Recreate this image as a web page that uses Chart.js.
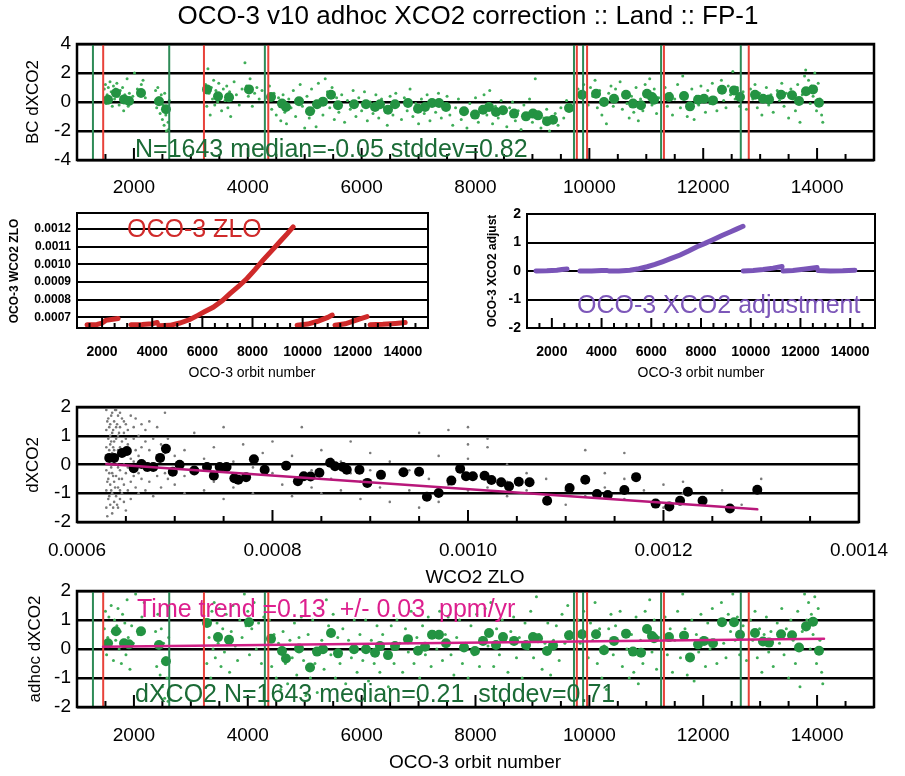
<!DOCTYPE html>
<html>
<head>
<meta charset="utf-8">
<title>OCO-3 v10 adhoc XCO2 correction</title>
<script src="https://cdn.jsdelivr.net/npm/chart.js@4.4.1/dist/chart.umd.min.js"></script>
<style>
  body { margin: 0; background: #fff; }
  #wrap { position: relative; width: 905px; height: 776px; }
  #wrap canvas { position: absolute; left: 0; top: 0; }
</style>
</head>
<body>
<div id="wrap">
  <canvas id="p1" width="905" height="776"></canvas>
  <canvas id="p2" width="905" height="776"></canvas>
  <canvas id="p3" width="905" height="776"></canvas>
  <canvas id="p4" width="905" height="776"></canvas>
  <canvas id="p5" width="905" height="776"></canvas>
</div>
<script>
// ---- tick labels ----
const orbitTicks = [2000, 4000, 6000, 8000, 10000, 12000, 14000];
const bcTicks = [-4, -2, 0, 2, 4];
const unitTicks = [-2, -1, 0, 1, 2];
const zloTicks = [0.0007, 0.0008, 0.0009, 0.0010, 0.0011, 0.0012];
const wco2Ticks = [0.0006, 0.0008, 0.0010, 0.0012, 0.0014];

// ---- vertical markers (orbit numbers) ----
const greenLines = [1280, 2620, 4300, 9730, 9890, 11260, 12660];
const redLines = [1460, 3230, 4360, 9780, 9960, 11310, 12800];

// ---- binned means, top and bottom panels ----
const binOrbit = [1545,1685,1826,1913,2124,2440,2563,3284,3477,3670,4021,4408,4601,4671,4900,5093,5216,5321,5462,5585,5866,6076,6235,6322,6463,6586,6814,6990,7113,7236,7359,7482,7798,7991,8132,8237,8360,8483,8677,8887,9010,9098,9256,9362,9643,9871,10117,10257,10433,10644,10767,10907,11013,11100,11136,11399,11663,11768,11909,12014,12172,12330,12541,12646,12910,13050,13156,13367,13560,13683,13806,13929,14034];
const bcBin = [0.16,0.62,0.18,0.07,0.62,0.05,-0.5,0.87,0.39,0.32,0.87,0.34,-0.11,-0.34,0.05,-0.64,-0.16,0.02,0.5,-0.23,-0.16,-0.16,-0.34,-0.16,-0.53,-0.16,-0.07,-0.46,-0.34,-0.07,-0.07,-0.34,-0.64,-0.87,-0.53,-0.34,-0.69,-0.57,-0.8,-0.99,-0.8,-0.92,-1.33,-1.22,-0.41,0.5,0.57,0,0.23,0.5,-0.11,-0.23,0.57,0.34,0.16,0.34,0.41,-0.3,0.16,0.23,0.11,0.85,0.8,0.34,0.5,0.23,0.18,0.5,0.46,0.07,0.74,0.87,-0.05];
const adhocBin = [0.2,0.61,0.2,0.16,0.61,0.14,-0.42,0.9,0.41,0.32,0.92,0.35,-0.07,-0.33,0.02,-0.64,-0.09,-0.01,0.55,-0.15,-0.01,-0.01,-0.13,0.1,-0.21,0.1,0.34,-0.06,0.08,0.49,0.49,0.2,0.05,-0.07,0.28,0.55,0.14,0.41,0.28,0.14,0.41,0.37,-0.07,0.12,0.47,0.51,0.51,-0.04,0.28,0.53,-0.09,-0.13,0.69,0.45,0.37,0.41,0.46,-0.29,0.16,0.28,0.2,0.92,0.92,0.49,0.55,0.26,0.22,0.51,0.47,0.05,0.78,0.94,-0.06];

// ---- individual soundings [orbit, dXCO2] ----
const bcDots = [[1480,0.9],[1500,1.2],[1510,-0.1],[1530,0.5],[1550,1.0],[1560,0.3],[1580,1.4],[1600,0.7],[1620,-0.3],[1640,1.1],[1660,0.2],[1680,0.9],[1700,1.3],[1720,0.4],[1740,-0.2],[1760,0.8],[1780,0.1],[1800,1.0],[1820,-0.6],[1840,0.5],[1860,0.2],[1880,1.6],[1900,-0.3],[1920,0.6],[1950,0.0],[1980,0.4],[2010,2.0],[2060,0.9],[2130,1.2],[2160,1.5],[2200,0.3],
[2380,0.8],[2400,-0.4],[2420,1.0],[2440,0.3],[2460,-0.8],[2480,0.5],[2500,-1.2],[2510,-0.2],[2530,-1.6],[2540,0.6],[2560,-0.9],[2570,-2.0],[2590,-0.4],[2600,-1.4],[2610,-1.9],[2620,0.1],
[3260,1.2],[3280,-0.3],[3300,2.3],[3320,0.6],[3340,-0.9],[3360,1.0],[3380,0.2],[3400,1.5],[3420,-0.2],[3440,0.8],[3470,0.0],[3490,1.3],[3510,0.4],[3540,-0.6],[3570,0.9],[3600,0.1],[3630,1.1],[3650,-0.4],[3680,0.7],[3700,-1.0],[3730,0.3],[3760,1.4],[3800,0.5],[3850,-0.2],[3900,0.9],[3950,2.7],[3980,1.1],[4010,0.4],[4040,1.6],[4080,-0.3],[4120,0.6],[4160,1.0],[4200,0.2],[4250,0.8],
[4380,1.1],[4420,-0.5],[4460,0.6],[4500,-0.9],[4540,0.3],[4580,-1.3],[4620,0.5],[4650,-0.7],[4680,-1.5],[4720,0.2],[4760,-0.4],[4800,0.8],[4840,-1.0],[4880,0.1],[4920,1.2],[4960,-0.3],[5000,-1.8],[5040,0.4],[5080,-1.1],[5120,0.9],[5160,-0.6],[5200,-1.7],[5240,1.3],[5280,0.2],[5320,-0.9],[5360,1.6],[5400,0.7],[5440,-0.4],[5480,1.0],[5520,-1.2],[5560,0.3],[5600,-0.7],[5650,0.5],[5700,-1.4],[5750,0.1],[5800,-0.5],[5850,0.8],[5900,-1.0],[5950,0.3],[6000,-0.6],[6050,0.7],[6100,-1.3],[6150,0.0],[6200,-0.8],[6250,0.5],[6300,-1.1],[6350,0.2],[6400,-0.4],[6450,-1.6],[6500,0.4],[6550,-0.9],[6600,0.6],[6650,-0.2],[6700,-1.2],[6750,0.3],[6800,-0.6],[6850,0.9],[6900,-1.0],[6950,-0.1],[7000,-1.5],[7050,0.2],[7100,-0.8],[7150,0.5],[7200,-1.3],[7250,0.0],[7300,-0.7],[7350,0.6],[7400,-1.1],[7450,-0.2],[7500,0.4],[7550,-0.9],[7600,-1.6],[7650,-0.4],[7700,0.2],[7750,-1.2],[7800,-0.6],[7850,-1.8],[7900,-0.1],[7950,-1.0],[8000,0.3],[8050,-1.4],[8100,-0.5],[8150,0.5],[8200,-0.9],[8250,0.8],[8300,-1.5],[8350,-0.3],[8400,-1.1],[8450,0.1],[8500,-0.7],[8550,-1.7],[8600,-0.4],[8650,0.0],[8700,-1.3],[8750,-0.6],[8800,-1.9],[8850,-0.2],[8900,-1.0],[8950,0.2],[9000,-1.4],[9050,1.6],[9100,-0.7],[9150,-1.8],[9200,-1.1],[9250,-0.5],[9300,-2.0],[9350,-1.3],[9400,-0.8],[9450,-1.6],[9500,-0.4],[9550,-1.1],[9600,0.1],[9650,-0.6],
[9800,0.9],[9840,0.3],[9900,1.2],[9940,0.6],[9980,-0.2],[10020,1.0],[10060,0.4],[10100,1.5],[10140,-0.4],[10180,0.8],[10220,-0.9],[10260,0.2],[10300,-1.5],[10340,0.6],[10380,1.1],[10420,-0.3],[10460,0.9],[10500,0.2],[10540,1.4],[10580,-0.5],[10620,0.7],[10660,-0.1],[10700,-1.1],[10740,0.4],[10780,-0.7],[10820,1.0],[10860,-1.3],[10900,0.2],[10940,-0.6],[10980,1.2],[11020,0.5],[11060,1.6],[11100,-0.2],[11140,0.9],[11180,-0.8],[11220,0.3],[11330,1.0],[11370,-0.3],[11420,0.6],[11460,-0.9],[11500,0.2],[11550,1.2],[11600,-0.4],[11640,1.8],[11680,0.6],[11720,-1.0],[11760,-0.5],[11800,0.9],[11840,-1.2],[11880,0.4],[11920,-0.2],[11960,1.1],[12000,0.3],[12040,-0.7],[12080,0.8],[12120,-0.1],[12160,1.3],[12200,0.2],[12240,-0.6],[12280,0.9],[12320,1.5],[12360,0.1],[12400,-0.4],[12440,1.1],[12480,0.5],[12520,2.1],[12560,0.2],[12600,1.0],[12640,-0.3],[12700,0.7],[12760,-0.5],[12830,0.9],[12870,0.2],[12910,1.2],[12950,-0.4],[12990,0.6],[13030,-0.9],[13070,0.4],[13110,1.0],[13150,-0.2],[13190,0.5],[13230,-0.7],[13300,0.8],[13340,0.1],[13380,1.3],[13420,-0.3],[13460,0.6],[13500,-1.1],[13540,0.9],[13580,0.2],[13620,-0.6],[13660,1.2],[13700,-1.4],[13740,0.5],[13780,1.8],[13800,2.2],[13820,0.9],[13850,1.5],[13880,-0.1],[13900,1.1],[13930,0.4],[13960,2.0],[13990,-0.6],[14020,1.3],[14050,0.2],[14080,-0.9],[14100,-1.4]];

const adhocDots = [[1480,0.7],[1500,1.3],[1520,-0.2],[1540,0.4],[1560,1.1],[1580,0.2],[1600,1.5],[1620,0.6],[1640,-0.4],[1660,1.0],[1680,0.3],[1700,0.8],[1720,1.4],[1740,0.0],[1760,0.6],[1780,-0.5],[1800,1.2],[1820,0.3],[1840,0.9],[1860,-0.2],[1880,1.7],[1900,0.4],[1930,-0.7],[1960,0.8],[1990,0.2],[2030,1.9],[2080,0.5],[2140,1.1],[2180,1.6],
[2380,0.6],[2400,-0.6],[2420,1.2],[2440,0.1],[2460,-0.9],[2480,0.7],[2500,-1.3],[2520,0.2],[2540,-1.7],[2560,-0.3],[2580,-1.0],[2600,-1.8],[2610,0.4],
[3260,1.0],[3280,-0.5],[3300,2.0],[3320,0.4],[3350,-1.0],[3370,1.3],[3390,0.0],[3410,1.6],[3430,-0.3],[3460,0.9],[3480,0.2],[3500,1.4],[3530,-0.6],[3560,0.7],[3590,-0.1],[3620,1.2],[3650,0.3],[3680,-0.8],[3710,0.6],[3740,1.5],[3780,0.1],[3820,-0.4],[3860,1.0],[3900,0.4],[3940,1.9],[3970,0.8],[4000,1.3],[4030,-0.2],[4070,0.7],[4110,1.6],[4150,0.0],[4190,0.9],[4240,-0.5],[4280,1.1],
[4380,1.0],[4420,-0.6],[4460,0.5],[4500,-1.0],[4540,0.2],[4580,-1.4],[4620,0.6],[4660,-0.5],[4700,-1.2],[4740,0.3],[4780,-0.3],[4820,0.9],[4860,-0.9],[4900,0.4],[4940,1.1],[4980,-0.4],[5020,-1.6],[5060,0.5],[5100,-1.0],[5140,1.0],[5180,-0.5],[5220,-1.5],[5260,1.4],[5300,0.3],[5340,-0.7],[5380,1.7],[5420,0.8],[5460,-0.2],[5500,1.2],[5540,-1.0],[5580,0.4],[5620,-0.5],[5670,0.7],[5720,-1.2],[5770,0.3],[5820,-0.3],[5870,1.0],[5920,-0.8],[5970,0.5],[6020,-0.4],[6070,1.0],[6120,-1.1],[6170,0.3],[6220,-0.5],[6270,0.8],[6320,-0.8],[6370,0.5],[6420,-0.1],[6470,-1.3],[6520,0.8],[6570,-0.5],[6620,1.0],[6670,0.2],[6720,-0.8],[6770,0.7],[6820,-0.1],[6870,1.3],[6920,-0.5],[6970,0.4],[7020,-1.0],[7070,0.8],[7120,-0.2],[7170,1.1],[7220,-0.6],[7270,0.6],[7320,0.0],[7370,1.3],[7420,-0.4],[7470,0.5],[7520,1.1],[7570,-0.2],[7620,-0.9],[7670,0.4],[7720,1.0],[7770,-0.5],[7820,0.2],[7870,-1.0],[7920,0.8],[7970,-0.2],[8020,1.2],[8070,-0.6],[8120,0.4],[8170,1.4],[8220,0.1],[8270,1.6],[8320,-0.6],[8370,0.7],[8420,-0.2],[8470,1.0],[8520,0.3],[8570,-0.8],[8620,0.6],[8670,1.1],[8720,-0.3],[8770,0.4],[8820,-1.0],[8870,0.9],[8920,0.0],[8970,1.3],[9020,-0.3],[9070,1.8],[9120,0.5],[9170,-0.7],[9220,0.2],[9270,0.9],[9320,-0.9],[9370,0.3],[9420,0.8],[9470,-0.4],[9520,1.2],[9570,0.2],[9620,1.5],[9660,0.6],
[9800,1.0],[9840,0.2],[9900,1.3],[9940,0.5],[9980,-0.3],[10020,0.9],[10060,0.3],[10100,1.6],[10140,-0.5],[10180,0.7],[10220,-1.0],[10260,0.1],[10300,-1.4],[10340,0.7],[10380,1.2],[10420,-0.2],[10460,0.8],[10500,0.3],[10540,1.3],[10580,-0.6],[10620,0.6],[10660,0.0],[10700,-1.0],[10740,0.5],[10780,-0.8],[10820,1.1],[10860,-1.2],[10900,0.3],[10940,-0.5],[10980,1.3],[11020,0.6],[11060,1.7],[11100,-0.1],[11140,1.0],[11180,-0.7],[11220,0.4],[11330,1.1],[11370,-0.2],[11420,0.7],[11460,-0.8],[11500,0.3],[11550,1.3],[11600,-0.3],[11640,1.9],[11680,0.7],[11720,-0.9],[11760,-0.4],[11800,1.0],[11840,-1.1],[11880,0.5],[11920,-0.1],[11960,1.2],[12000,0.4],[12040,-0.6],[12080,0.9],[12120,0.0],[12160,1.4],[12200,0.3],[12240,-0.5],[12280,1.0],[12320,1.6],[12360,0.2],[12400,-0.3],[12440,1.2],[12480,0.6],[12520,1.9],[12560,0.3],[12600,1.1],[12640,-0.2],[12700,0.8],[12760,-0.4],[12830,1.0],[12870,0.3],[12910,1.3],[12950,-0.3],[12990,0.7],[13030,-0.8],[13070,0.5],[13110,1.1],[13150,-0.1],[13190,0.6],[13230,-0.6],[13300,0.9],[13340,0.2],[13380,1.4],[13420,-0.2],[13460,0.7],[13500,-1.0],[13540,1.0],[13580,0.3],[13620,-0.5],[13660,1.3],[13700,-1.3],[13740,0.6],[13780,1.9],[13800,2.1],[13820,1.0],[13850,1.6],[13880,0.0],[13900,1.2],[13930,0.5],[13960,1.8],[13990,-0.5],[14020,1.4],[14050,0.3],[14080,-0.8],[14100,-1.2]];

// ---- ZLO and XCO2 adjustment vs orbit (null = data gap) ----
const zloCurve = [[1400,0.000658],[1800,0.000660],[2000,0.000668],[2150,0.000683],[2640,0.000694],null,
  [3150,0.000659],[3600,0.000660],[4000,0.000664],[4200,0.000671],null,
  [4270,0.000653],[4700,0.000655],[5100,0.000668],[5500,0.000688],[5800,0.000710],[6100,0.000733],[6430,0.000757],[6800,0.000795],[7100,0.000834],[7450,0.000876],[7780,0.000920],[8100,0.000970],[8420,0.001024],[8760,0.001076],[9100,0.001129],[9380,0.001172],[9620,0.001211],null,
  [9780,0.000656],[10200,0.000662],[10600,0.000678],[11000,0.000700],[11180,0.000713],null,
  [11290,0.000656],[11700,0.000664],[12200,0.000688],[12570,0.000704],null,
  [12690,0.000658],[13200,0.000661],[13700,0.000666],[14090,0.000671]];
const adjCurve = [[1360,0.0],[1800,0.01],[2200,0.03],[2400,0.05],[2610,0.07],null,
  [3130,0.0],[3600,0.0],[4000,0.02],[4220,0.02],null,
  [4300,0.0],[4700,0.0],[5140,0.03],[5500,0.08],[5830,0.15],[6150,0.23],[6470,0.33],[6800,0.44],[7160,0.56],[7500,0.70],[7840,0.85],[8160,0.97],[8480,1.10],[8820,1.24],[9170,1.37],[9430,1.47],[9690,1.57],null,
  [9700,0.0],[10100,0.02],[10500,0.05],[10900,0.10],[11260,0.16],null,
  [11300,0.0],[11700,0.02],[12200,0.07],[12670,0.12],null,
  [12710,0.02],[13200,0.0],[13700,0.01],[14190,0.03]];

// ---- dXCO2 vs WCO2 ZLO ----
const zloBinX = [6.33e-4,6.38e-4,6.46e-4,6.51e-4,6.58e-4,6.66e-4,6.72e-4,6.78e-4,6.85e-4,6.91e-4,6.98e-4,7.05e-4,7.20e-4,7.33e-4,7.40e-4,7.46e-4,7.53e-4,7.61e-4,7.65e-4,7.73e-4,7.81e-4,7.92e-4,8.14e-4,8.26e-4,8.32e-4,8.39e-4,8.48e-4,8.59e-4,8.64e-4,8.72e-4,8.76e-4,8.89e-4,8.97e-4,9.11e-4,9.34e-4,9.50e-4,9.58e-4,9.70e-4,9.83e-4,9.92e-4,9.98e-4,10.05e-4,10.17e-4,10.24e-4,10.34e-4,10.42e-4,10.52e-4,10.63e-4,10.81e-4,11.04e-4,11.20e-4,11.32e-4,11.43e-4,11.60e-4,11.72e-4,11.92e-4,12.06e-4,12.17e-4,12.25e-4,12.40e-4,12.68e-4,12.96e-4];
const zloBinY = [0.23,0.23,0.4,0.47,-0.13,0.02,-0.09,-0.09,0.23,0.55,-0.25,-0.01,-0.21,-0.09,-0.39,-0.09,-0.09,-0.48,-0.53,-0.44,0.18,-0.18,-0.04,-0.58,-0.41,-0.42,-0.29,0.06,-0.06,-0.09,-0.18,-0.18,-0.64,-0.36,-0.27,-0.25,-1.12,-0.99,-0.56,-0.15,-0.41,-0.41,-0.39,-0.54,-0.62,-0.76,-0.6,-0.62,-1.26,-0.82,-0.53,-1.03,-1.06,-0.89,-0.44,-1.36,-1.46,-1.26,-0.95,-1.26,-1.53,-0.88];
const zloDots = [[6.30e-4,1.9],[6.30e-4,1.2],[6.30e-4,0.6],[6.30e-4,-0.2],[6.30e-4,-0.9],[6.30e-4,-1.5],
[6.31e-4,1.5],[6.31e-4,0.2],[6.31e-4,-0.6],[6.31e-4,-1.8],
[6.32e-4,1.6],[6.32e-4,0.9],[6.32e-4,0.3],[6.32e-4,-0.5],[6.32e-4,-1.2],[6.32e-4,2.0],
[6.33e-4,1.3],[6.33e-4,0.5],[6.33e-4,-0.3],[6.33e-4,-1.1],
[6.34e-4,1.4],[6.34e-4,0.7],[6.34e-4,0.0],[6.34e-4,-0.7],[6.34e-4,-1.4],[6.34e-4,1.0],
[6.35e-4,1.7],[6.35e-4,0.8],[6.35e-4,-0.1],[6.35e-4,-0.9],
[6.36e-4,1.8],[6.36e-4,1.1],[6.36e-4,0.4],[6.36e-4,-0.3],[6.36e-4,-1.0],[6.36e-4,-1.7],
[6.37e-4,1.2],[6.37e-4,0.6],[6.37e-4,-0.4],[6.37e-4,-1.5],
[6.38e-4,1.5],[6.38e-4,0.8],[6.38e-4,0.1],[6.38e-4,-0.6],[6.38e-4,-1.3],[6.38e-4,0.5],
[6.39e-4,1.9],[6.39e-4,0.3],[6.39e-4,-0.8],
[6.40e-4,1.9],[6.40e-4,1.3],[6.40e-4,0.2],[6.40e-4,-0.4],[6.40e-4,-1.1],[6.40e-4,0.9],
[6.41e-4,1.4],[6.41e-4,0.0],[6.41e-4,-1.4],
[6.42e-4,1.7],[6.42e-4,1.0],[6.42e-4,0.5],[6.42e-4,-0.8],[6.42e-4,-1.5],[6.42e-4,-0.1],
[6.43e-4,1.1],[6.43e-4,0.4],[6.43e-4,-0.5],
[6.44e-4,1.3],[6.44e-4,0.6],[6.44e-4,-0.2],[6.44e-4,-0.9],[6.44e-4,1.8],[6.44e-4,-1.2],
[6.46e-4,1.6],[6.46e-4,0.3],[6.46e-4,-0.5],[6.46e-4,-1.0],[6.46e-4,0.8],
[6.48e-4,1.1],[6.48e-4,0.0],[6.48e-4,-0.7],[6.48e-4,1.5],[6.48e-4,-1.3],
[6.50e-4,1.4],[6.50e-4,0.4],[6.50e-4,-0.3],[6.50e-4,-1.6],[6.50e-4,0.9],
[6.52e-4,1.2],[6.52e-4,-0.1],[6.52e-4,0.7],[6.52e-4,-0.9],
[6.55e-4,1.7],[6.55e-4,0.2],[6.55e-4,-0.6],[6.55e-4,-1.2],
[6.58e-4,0.9],[6.58e-4,-0.4],[6.58e-4,1.3],[6.58e-4,0.1],
[6.60e-4,1.6],[6.60e-4,-0.8],[6.60e-4,0.5],
[6.63e-4,1.0],[6.63e-4,-0.3],[6.63e-4,0.3],[6.63e-4,-1.0],
[6.66e-4,1.4],[6.66e-4,0.6],[6.66e-4,-0.5],
[6.70e-4,1.2],[6.70e-4,-0.2],[6.70e-4,0.8],[6.70e-4,-0.9],
[6.74e-4,0.5],[6.74e-4,-0.6],[6.74e-4,1.5],
[6.78e-4,0.9],[6.78e-4,-0.1],[6.78e-4,-1.1],
[6.82e-4,1.3],[6.82e-4,0.3],[6.82e-4,-0.4],
[6.86e-4,0.7],[6.86e-4,-0.8],
[6.90e-4,1.8],[6.90e-4,0.4],[6.90e-4,-0.3],
[6.93e-4,0.9],[6.93e-4,-0.5],
[7.00e-4,0.3],[7.00e-4,-0.7],[7.10e-4,0.5],[7.10e-4,-0.4],[7.10e-4,-1.0],[7.20e-4,1.1],[7.20e-4,-0.3],[7.30e-4,0.2],[7.30e-4,-0.9],[7.40e-4,0.6],[7.40e-4,-0.6],[7.50e-4,1.3],[7.50e-4,-0.2],[7.50e-4,-1.2],[7.60e-4,0.1],[7.60e-4,-0.8],[7.70e-4,0.7],[7.70e-4,-0.5],[7.80e-4,-0.1],[7.80e-4,-1.0],[7.90e-4,0.4],
[8.00e-4,-0.3],[8.00e-4,0.8],[8.10e-4,-0.7],[8.20e-4,0.3],[8.20e-4,-1.1],[8.30e-4,1.3],[8.30e-4,-0.4],[8.40e-4,-0.2],[8.40e-4,-0.8],[8.50e-4,0.5],[8.50e-4,-1.0],[8.60e-4,-0.5],[8.60e-4,0.2],[8.70e-4,0.1],[8.70e-4,-0.9],[8.80e-4,0.8],[8.80e-4,-0.3],[8.90e-4,-1.2],[8.90e-4,-0.6],
[9.00e-4,0.4],[9.00e-4,-0.2],[9.10e-4,-0.8],[9.20e-4,0.1],[9.20e-4,-1.3],[9.40e-4,-0.2],[9.40e-4,-0.9],[9.50e-4,1.1],[9.50e-4,-1.5],[9.60e-4,-0.5],[9.70e-4,-1.3],[9.70e-4,0.3],[9.80e-4,-0.7],[9.80e-4,1.2],
[10.0e-4,1.3],[10.0e-4,0.7],[10.0e-4,0.2],[10.0e-4,-0.3],[10.0e-4,-0.9],[10.2e-4,0.6],[10.2e-4,0.9],[10.2e-4,-0.4],[10.2e-4,-0.8],[10.4e-4,0.0],[10.4e-4,-0.6],[10.4e-4,-1.1],[10.6e-4,-0.3],[10.6e-4,-0.9],[10.8e-4,-0.5],
[11.0e-4,-0.9],[11.0e-4,-1.4],[11.2e-4,0.5],[11.2e-4,-0.6],[11.2e-4,-1.1],[11.4e-4,-0.8],[11.4e-4,-0.3],[11.6e-4,0.4],[11.6e-4,-0.5],[11.6e-4,-1.2],[11.8e-4,-0.9],
[12.0e-4,-0.7],[12.0e-4,-1.5],[12.2e-4,-1.0],[12.2e-4,-0.6],[12.4e-4,-1.3],[12.6e-4,-0.9],[12.8e-4,-1.4],[13.0e-4,-0.5]];

// ---- fitted lines (end points) ----
const zloFit = [[6.30e-4, 0.02], [12.96e-4, -1.56]];
const timeFit = [[1457, 0.08], [14122, 0.35]];

const W = 905, H = 776;
const FONT = "'Liberation Sans', Arial, Helvetica, sans-serif";
const GREEN = '#239342', LIGHTGREEN = '#3fae58', TXTGREEN = '#1b6b36';

const pairs = arr => arr.map((p, i) => p ? { x: p[0], y: p[1] } : { x: arr[i - 1][0], y: null });
const dots = (pts, r, color) => ({ data: pts, showLine: false, pointRadius: r, pointBackgroundColor: color, pointBorderWidth: 0 });
const line = (pts, color, w) => ({ data: pts, showLine: true, spanGaps: false, borderColor: color, borderWidth: w, borderCapStyle: 'round', pointRadius: 0 });
function vlines(xs, lo, hi) {
  const pts = [];
  xs.forEach(v => pts.push({ x: v, y: lo }, { x: v, y: hi }, { x: v, y: null }));
  return pts;
}

function deco(d) {
  return {
    id: 'deco',
    afterDraw(chart) {
      const { ctx, chartArea: a, scales } = chart;
      const x = scales.x;
      ctx.save();
      ctx.strokeStyle = '#000';
      ctx.lineWidth = 2;
      // inward minor / major ticks on the bottom axis
      const n = Math.round((d.tEnd - d.tStart) / d.tStep);
      for (let i = 0; i <= n; i++) {
        const v = d.tStart + i * d.tStep;
        const r = v / d.tMajor;
        const major = Math.abs(r - Math.round(r)) < 1e-6;
        const px = x.getPixelForValue(v);
        ctx.beginPath();
        ctx.moveTo(px, a.bottom);
        ctx.lineTo(px, a.bottom - (major ? d.tLen * 2 : d.tLen));
        ctx.stroke();
      }
      ctx.lineWidth = d.frame;
      ctx.strokeRect(a.left, a.top, a.right - a.left, a.bottom - a.top);
      (d.texts || []).forEach(t => {
        ctx.save();
        ctx.font = (t.bold ? 'bold ' : '') + t.size + 'px ' + FONT;
        ctx.fillStyle = t.color || '#000';
        ctx.textAlign = t.align || 'center';
        ctx.textBaseline = t.base || 'middle';
        ctx.translate(t.x, t.y);
        if (t.rot) ctx.rotate(-Math.PI / 2);
        ctx.fillText(t.t, 0, 0);
        ctx.restore();
      });
      ctx.restore();
    }
  };
}

function panel(id, area, xs, ys, datasets, d) {
  return new Chart(document.getElementById(id), {
    type: 'scatter',
    data: { datasets },
    options: {
      responsive: false,
      animation: false,
      events: [],
      layout: { padding: { left: 0, top: area[1], right: W - area[2], bottom: 0 } },
      plugins: { legend: { display: false }, tooltip: { enabled: false } },
      scales: {
        x: {
          type: 'linear', min: xs.min, max: xs.max,
          afterBuildTicks: s => { s.ticks = xs.ticks.map(v => ({ value: v })); },
          afterFit: s => { s.height = H - area[3]; },
          grid: { display: false, drawTicks: false },
          border: { display: false },
          ticks: { autoSkip: false, maxRotation: 0, padding: xs.pad, color: '#000',
                   font: { family: FONT, size: xs.size, weight: xs.weight || 'normal' }, callback: xs.fmt }
        },
        y: {
          type: 'linear', min: ys.min, max: ys.max,
          afterBuildTicks: s => { s.ticks = ys.ticks.map(v => ({ value: v })); },
          afterFit: s => { s.width = area[0]; },
          grid: { color: '#000', lineWidth: ys.grid, drawTicks: false },
          border: { display: false },
          ticks: { padding: 6, color: '#000',
                   font: { family: FONT, size: ys.size, weight: ys.weight || 'normal' }, callback: ys.fmt }
        }
      }
    },
    plugins: [deco(d)]
  });
}

const orbitFmt = v => String(v);
const f4 = v => v.toFixed(4);
const plain = v => String(v);

// 1: bias-corrected dXCO2 vs orbit
panel('p1', [77, 44, 874, 160],
  { min: 1000, max: 15000, ticks: orbitTicks, pad: 16, size: 19, fmt: orbitFmt },
  { min: -4, max: 4, ticks: bcTicks, grid: 2.5, size: 19, fmt: plain },
  [
    line(vlines(greenLines, -4, 4), '#2e8b57', 2),
    line(vlines(redLines, -4, 4), '#e8423a', 2),
    dots(binOrbit.map((x, i) => ({ x, y: bcBin[i] })), 5, GREEN),
    dots(pairs(bcDots), 1.5, LIGHTGREEN)
  ],
  { tStart: 1500, tEnd: 14500, tStep: 500, tMajor: 2000, tLen: 6, frame: 2.5,
    texts: [
      { t: 'OCO-3 v10 adhoc XCO2 correction :: Land :: FP-1', x: 468, y: 17, size: 26 },
      { t: 'BC dXCO2', x: 33, y: 102, size: 17, rot: true },
      { t: 'N=1643 median=-0.05 stddev=0.82', x: 135, y: 157, size: 25, color: TXTGREEN, align: 'left', base: 'alphabetic' }
    ] });

// 2: OCO-3 WCO2 ZLO vs orbit
panel('p2', [77, 213, 428, 328],
  { min: 1000, max: 15000, ticks: orbitTicks, pad: 16, size: 14, weight: 'bold', fmt: orbitFmt },
  { min: 0.00064, max: 0.00129, ticks: zloTicks, grid: 2, size: 12, weight: 'bold', fmt: f4 },
  [ line(pairs(zloCurve), '#cf2a2a', 5) ],
  { tStart: 1500, tEnd: 14500, tStep: 500, tMajor: 2000, tLen: 5, frame: 2,
    texts: [
      { t: 'OCO-3 WCO2 ZLO', x: 15, y: 271, size: 12, bold: true, rot: true },
      { t: 'OCO-3 orbit number', x: 252, y: 373, size: 14 },
      { t: 'OCO-3 ZLO', x: 127, y: 237, size: 25, color: '#d02a2a', align: 'left', base: 'alphabetic' }
    ] });

// 3: XCO2 adjustment vs orbit
panel('p3', [527, 214, 875, 328],
  { min: 1000, max: 15000, ticks: orbitTicks, pad: 16, size: 14, weight: 'bold', fmt: orbitFmt },
  { min: -2, max: 2, ticks: unitTicks, grid: 2, size: 14, weight: 'bold', fmt: plain },
  [ line(pairs(adjCurve), '#7a55b8', 5) ],
  { tStart: 1500, tEnd: 14500, tStep: 500, tMajor: 2000, tLen: 5, frame: 2,
    texts: [
      { t: 'OCO-3 XCO2 adjust', x: 493, y: 271, size: 12, bold: true, rot: true },
      { t: 'OCO-3 orbit number', x: 701, y: 373, size: 14 },
      { t: 'OCO-3 XCO2 adjustment', x: 577, y: 313, size: 25, color: '#7d57b9', align: 'left', base: 'alphabetic' }
    ] });

// 4: dXCO2 vs WCO2 ZLO
panel('p4', [77, 407, 874, 522],
  { min: 0.0006, max: 0.0014, ticks: wco2Ticks, pad: 17, size: 19, fmt: f4 },
  { min: -2, max: 2, ticks: unitTicks, grid: 2.5, size: 19, fmt: plain },
  [
    line(pairs(zloFit), '#b8177a', 2.5),
    dots(zloBinX.map((x, i) => ({ x, y: zloBinY[i] })), 5, '#000'),
    dots(pairs(zloDots), 1.3, '#7a7a7a')
  ],
  { tStart: 0.0006, tEnd: 0.0014, tStep: 0.00005, tMajor: 0.0002, tLen: 6, frame: 2.5,
    texts: [
      { t: 'dXCO2', x: 33, y: 465, size: 17, rot: true },
      { t: 'WCO2 ZLO', x: 475, y: 578, size: 19 }
    ] });

// 5: adhoc-corrected dXCO2 vs orbit
panel('p5', [77, 591, 874, 707],
  { min: 1000, max: 15000, ticks: orbitTicks, pad: 17, size: 19, fmt: orbitFmt },
  { min: -2, max: 2, ticks: unitTicks, grid: 2.5, size: 19, fmt: plain },
  [
    line(pairs(timeFit), '#d01f86', 2.5),
    line(vlines(greenLines, -2, 2), '#2e8b57', 2),
    line(vlines(redLines, -2, 2), '#e8423a', 2),
    dots(binOrbit.map((x, i) => ({ x, y: adhocBin[i] })), 5, GREEN),
    dots(pairs(adhocDots), 1.5, LIGHTGREEN)
  ],
  { tStart: 1500, tEnd: 14500, tStep: 500, tMajor: 2000, tLen: 6, frame: 2.5,
    texts: [
      { t: 'adhoc dXCO2', x: 35, y: 649, size: 17, rot: true },
      { t: 'OCO-3 orbit number', x: 475, y: 763, size: 19 },
      { t: 'Time trend =0.13  +/- 0.03  ppm/yr', x: 137, y: 617, size: 25, color: '#dd1f8e', align: 'left', base: 'alphabetic' },
      { t: 'dXCO2 N=1643 median=0.21  stddev=0.71', x: 135, y: 702, size: 25, color: TXTGREEN, align: 'left', base: 'alphabetic' }
    ] });
</script>
</body>
</html>
